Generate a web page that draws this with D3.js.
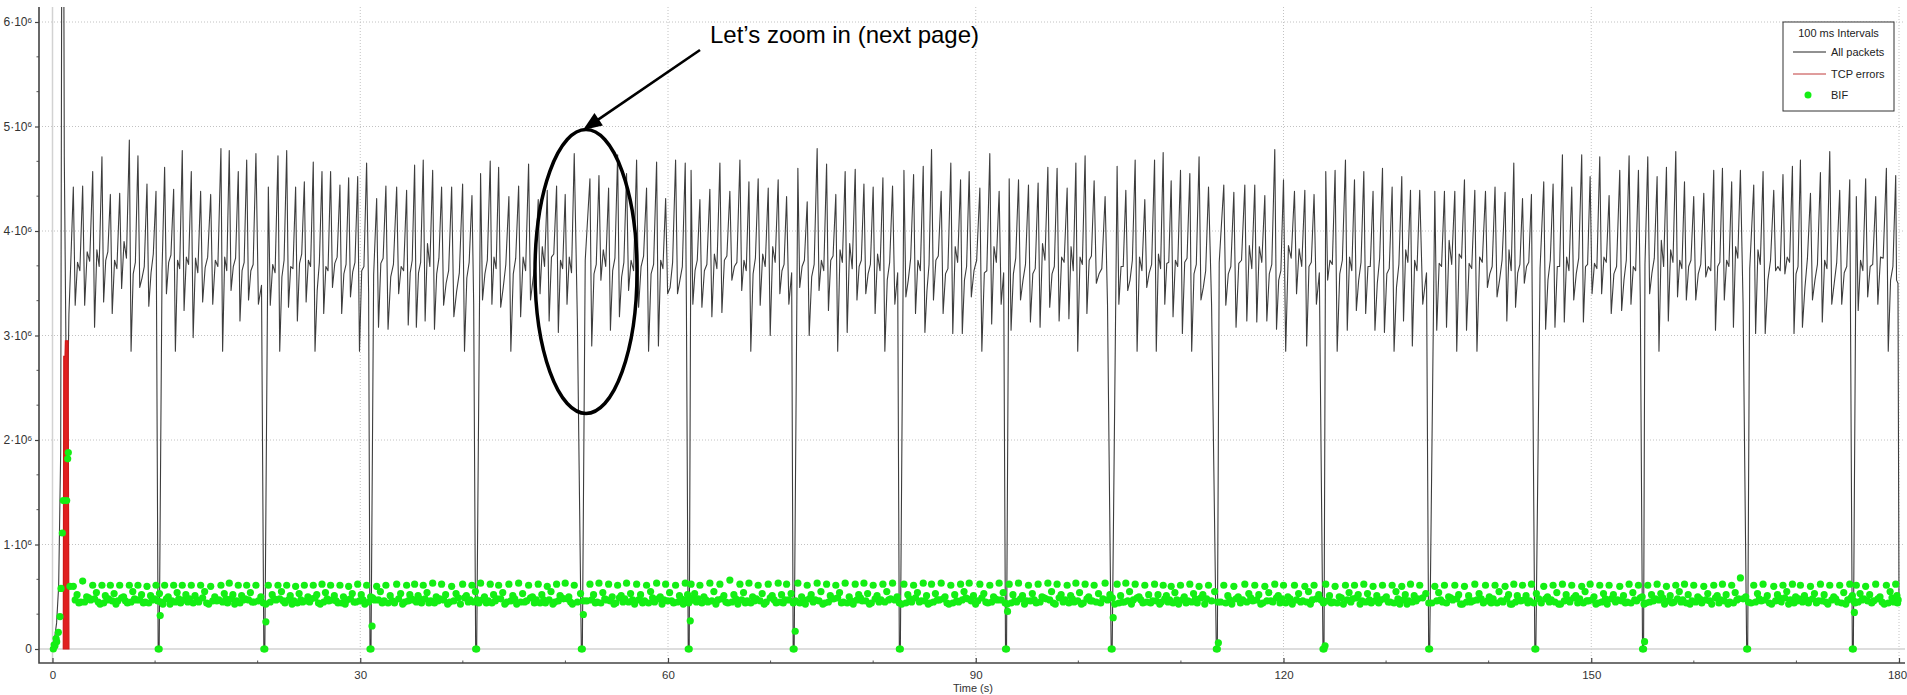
<!DOCTYPE html>
<html><head><meta charset="utf-8">
<script src="https://cdn.jsdelivr.net/npm/d3@7"></script>
<style>
html,body{margin:0;padding:0;background:#fff;}
svg{display:block;font-family:"Liberation Sans",Arial,sans-serif;}
</style></head><body>
<svg id="chart" width="1907" height="695"></svg>
<script>
// ---- axis ticks ----
const xTicks = [0, 30, 60, 90, 120, 150, 180];
const yTicks = [0, 1, 2, 3, 4, 5, 6];            // millions of bytes

// ---- All packets (millions), start-up burst ----
const startT = [0, 0.2, 0.4, 0.6, 0.8, 0.9, 1.1, 1.15, 1.2, 1.4, 1.6, 1.8];
const startV = [0, 0.1, 0.25, 0.6, 1.9, 6.6, 6.6, 4.7, 4.15, 1.9, 3.2, 3.75];

// ---- All packets: each sawtooth cycle = peak time, peak, trough after it, two baseline levels ----
const peakT = [
2.03,2.94,3.92,4.82,5.64,6.55,7.49,8.33,9.21,10.09,
10.93,11.81,12.65,13.53,14.44,15.42,16.42,17.23,18.11,18.93,
19.83,21.04,21.98,22.83,23.70,24.55,25.42,26.27,27.11,28.02,
28.87,29.75,30.62,31.60,32.50,33.55,34.52,
35.30,36.14,37.06,37.93,38.91,39.98,40.89,41.73,42.67,43.49,
44.49,45.44,46.41,47.35,48.23,49.14,49.98,50.86,52.39,53.27,
54.21,55.09,55.96,56.94,57.91,58.89,59.77,60.74,61.68,62.25,
63.11,64.08,65.06,66.03,67.01,67.89,68.79,69.77,70.74,
71.56,72.66,73.57,74.54,75.46,76.36,77.27,78.25,79.10,80.00,
80.95,81.89,83.00,83.94,84.88,85.69,86.63,87.57,88.52,89.36,
90.40,91.37,92.28,93.26,94.17,95.14,96.08,97.03,97.93,98.91,
99.76,100.66,101.54,102.61,103.78,104.63,105.54,106.48,
107.43,108.27,109.05,109.96,110.87,111.77,112.69,114.18,115.16,116.23,
117.20,118.18,119.15,120.00,121.07,122.08,122.98,124.12,125.03,126.04,
126.92,127.83,128.73,129.65,130.59,131.53,132.38,133.28,134.75,135.69,
136.70,137.64,138.65,139.69,140.62,141.60,142.45,
143.30,144.17,145.37,146.28,147.19,148.10,149.07,149.89,150.83,151.74,
152.78,153.69,154.60,155.51,156.42,157.33,158.24,159.09,159.99,160.97,
161.94,162.79,163.69,164.54,165.84,166.75,167.79,168.69,169.61,170.39,
171.37,172.34,173.25,174.22,175.20,175.84,176.75,177.73,178.77,179.68];
const peakV = [
4.42,4.43,4.57,4.71,4.35,4.36,4.87,4.72,4.45,4.38,
4.61,4.40,4.77,4.57,4.38,4.35,4.79,4.77,4.57,4.68,
4.74,4.42,4.72,4.77,4.42,4.47,4.66,4.57,4.57,4.44,
4.51,4.52,4.65,4.31,4.43,4.42,4.39,
4.63,4.68,4.58,4.42,4.42,4.45,4.34,4.55,4.67,4.61,
4.33,4.43,4.64,4.30,4.39,4.43,4.35,4.74,4.50,4.53,
4.41,4.73,4.55,4.68,4.41,4.66,4.31,4.68,4.65,4.58,
4.30,4.40,4.65,4.38,4.68,4.47,4.50,4.41,4.49,
4.33,4.60,4.28,4.79,4.64,4.35,4.57,4.59,4.45,4.42,
4.51,4.43,4.58,4.54,4.62,4.78,4.38,4.65,4.49,4.57,
4.41,4.74,4.38,4.50,4.49,4.44,4.46,4.61,4.60,4.41,
4.65,4.72,4.48,4.33,4.62,4.39,4.68,4.30,
4.68,4.75,4.48,4.58,4.55,4.71,4.42,4.44,4.37,4.44,
4.44,4.34,4.78,4.49,4.38,4.39,4.35,4.57,4.58,4.68,
4.49,4.57,4.38,4.60,4.42,4.52,4.39,4.39,4.38,4.38,
4.38,4.49,4.39,4.38,4.42,4.37,4.65,
4.31,4.35,4.47,4.45,4.73,4.42,4.73,4.52,4.71,4.34,
4.58,4.72,4.58,4.71,4.52,4.61,4.76,4.47,4.33,4.36,
4.58,4.60,4.47,4.58,4.44,4.57,4.39,4.54,4.62,4.68,
4.36,4.56,4.76,4.39,4.49,4.33,4.50,4.33,4.60,4.53];
const lowV = [
3.29,3.29,3.08,3.32,3.21,3.45,2.85,3.46,3.28,3.40,
3.40,2.85,3.24,2.98,3.32,3.30,2.85,3.43,3.14,3.34,
3.30,3.29,2.85,3.27,3.14,3.32,2.85,3.21,3.46,3.21,
3.37,2.85,3.40,3.08,3.06,3.40,3.10,
3.08,3.14,3.06,3.29,3.18,2.85,3.30,3.34,3.30,3.27,
2.85,3.18,3.34,3.40,3.14,3.03,3.30,3.14,2.90,3.53,
3.05,3.18,3.43,3.27,2.85,2.90,3.40,3.40,3.30,3.30,
3.27,3.18,3.22,3.53,3.43,2.85,3.29,3.00,3.40,
3.30,3.46,3.00,3.43,3.24,2.85,3.03,3.34,3.40,3.21,
2.85,3.30,3.37,3.21,3.03,3.34,3.21,3.02,3.02,3.37,
2.85,3.11,3.30,3.05,3.34,3.13,3.08,3.27,3.14,3.16,
2.85,3.21,3.50,3.30,3.30,3.43,2.85,3.46,
2.85,3.30,3.18,3.02,2.85,3.34,3.30,3.29,3.08,3.14,
3.13,3.14,3.06,2.85,3.40,2.90,3.30,3.53,2.85,3.05,
3.24,3.21,3.05,3.03,2.85,3.14,2.90,3.30,3.05,3.08,
2.85,3.05,2.85,3.46,3.37,3.14,3.27,
3.50,3.30,3.06,3.08,3.13,3.34,3.13,3.40,3.40,3.21,
3.24,3.30,3.34,3.40,2.85,3.14,3.37,3.34,3.34,3.56,
3.05,3.34,3.08,3.30,3.02,3.02,3.62,3.59,3.02,3.08,
3.34,3.13,3.30,3.30,3.02,3.24,3.37,3.30,2.85,3.53];
const midV = [
3.70,3.80,3.82,3.72,3.72,3.90,3.59,3.55,3.60,3.65,
3.70,3.72,3.75,3.74,3.65,3.72,3.75,3.66,3.62,3.62,
3.48,3.68,3.56,3.66,3.69,3.72,3.43,3.66,3.69,3.59,
3.61,3.62,3.62,3.69,3.56,3.66,3.60,
3.60,3.88,3.59,3.50,3.42,3.55,3.60,3.59,3.75,3.46,
3.59,3.75,3.53,3.85,3.75,3.72,3.75,3.60,3.59,3.82,
3.62,3.56,3.72,3.66,3.59,3.72,3.46,3.53,3.55,3.62,
3.62,3.78,3.72,3.66,3.72,3.59,3.78,3.85,3.62,
3.60,3.66,3.56,3.72,3.72,3.82,3.88,3.66,3.59,3.78,
3.53,3.60,3.53,3.72,3.43,3.72,3.59,3.85,3.53,3.62,
3.60,3.85,3.60,3.59,3.53,3.59,3.88,3.59,3.75,3.85,
3.75,3.72,3.59,3.62,3.66,3.53,3.75,3.60,
3.78,3.69,3.72,3.70,3.59,3.46,3.60,3.59,3.69,3.86,
3.85,3.59,3.53,3.86,3.83,3.66,3.60,3.72,3.59,3.75,
3.53,3.66,3.50,3.59,3.46,3.82,3.72,3.60,3.69,3.91,
3.78,3.69,3.75,3.59,3.53,3.82,3.60,
3.66,3.60,3.53,3.66,3.75,3.59,3.66,3.69,3.75,3.59,
3.53,3.66,3.72,3.60,3.91,3.82,3.72,3.66,3.59,3.66,
3.66,3.72,3.85,3.60,3.82,3.53,3.66,3.75,3.59,3.46,
3.53,3.72,3.50,3.60,3.59,3.72,3.66,3.75,3.53,3.55];
const wigV = [
3.62,3.71,3.66,3.80,3.64,3.74,3.70,3.66,3.78,3.62,
3.77,3.64,3.68,3.60,3.75,3.66,3.62,3.74,3.70,3.68,
3.65,3.60,3.72,3.64,3.78,3.66,3.70,3.62,3.75,3.68,
3.70,3.66,3.58,3.74,3.68,3.62,3.72,
3.70,3.66,3.74,3.62,3.60,3.70,3.66,3.72,3.64,3.68,
3.74,3.62,3.70,3.66,3.78,3.64,3.60,3.72,3.68,3.66,
3.74,3.70,3.62,3.76,3.68,3.64,3.70,3.66,3.62,3.72,
3.68,3.64,3.76,3.70,3.62,3.74,3.66,3.70,3.68,
3.66,3.72,3.68,3.62,3.76,3.70,3.64,3.72,3.68,3.62,
3.70,3.66,3.74,3.62,3.68,3.76,3.64,3.70,3.66,3.72,
3.62,3.70,3.66,3.74,3.68,3.64,3.72,3.66,3.70,3.62,
3.68,3.76,3.64,3.70,3.66,3.72,3.62,3.68,
3.64,3.70,3.66,3.74,3.68,3.62,3.70,3.66,3.72,3.64,
3.70,3.68,3.62,3.74,3.66,3.70,3.64,3.68,3.72,3.62,
3.70,3.66,3.74,3.64,3.68,3.70,3.62,3.72,3.66,3.68,
3.74,3.64,3.70,3.66,3.72,3.62,3.68,
3.70,3.64,3.72,3.66,3.62,3.74,3.68,3.64,3.70,3.66,
3.72,3.62,3.68,3.74,3.66,3.70,3.64,3.72,3.68,3.62,
3.70,3.66,3.74,3.64,3.68,3.72,3.62,3.70,3.66,3.74,
3.68,3.64,3.70,3.66,3.72,3.62,3.68,3.74,3.66,3.70];

// ---- periodic stalls where All packets falls to zero (s) ----
const dipT = [10.3, 20.6, 30.95, 41.25, 51.55, 61.97, 72.2, 82.55, 92.9, 103.2,
              113.45, 123.85, 134.15, 144.5, 155.0, 165.15, 175.45];
const endT = [179.9, 180.0];
const endV = [3.5, 0.45];

// ---- TCP errors (millions) ----
const tcpT = [1.05, 1.1, 1.22, 1.26, 1.52, 1.6];
const tcpV = [0, 2.8, 2.8, 2.95, 2.95, 0];

// ---- BIF (bytes in flight), start-up ramp in millions ----
const bifStartT = [0.08, 0.16, 0.24, 0.35, 0.41, 0.57, 0.73, 0.83, 0.96, 1.05, 1.38, 1.48, 1.54, 1.7];
const bifStartV = [0, 0.04, 0.03, 0.10, 0.07, 0.16, 0.31, 0.58, 1.11, 1.42, 1.42, 1.82, 1.88, 0.6];
// BIF per cycle, in units of 10 kB: top of the cycle, then readings across the band
const bifHi = [
60,65,61,61,61,61,61,61,60,61, 61,61,61,61,61,60,61,63,61,61, 61,61,61,61,60,61,61,62,61,61, 60,62,61,60,61,62,61,
62,61,63,62,60,62,61,63,62,61, 62,63,61,62,60,62,63,61,62,63, 62,61,63,62,61,63,62,61,63,62, 61,63,62,66,62,63,61,62,63,
62,63,61,63,62,61,63,62,63,61, 62,63,62,61,63,62,63,61,62,63, 62,61,63,62,63,61,62,63,62,61, 63,62,61,63,62,63,62,61,
62,61,60,61,62,60,61,61,60,62, 61,60,62,61,61,60,61,62,60,61, 61,62,60,61,61,60,62,61,60,61, 61,60,62,61,61,60,62,
61,62,60,61,62,61,60,62,61,61, 60,62,61,61,62,60,61,62,61,60, 61,62,61,68,61,62,60,61,62,61, 60,62,61,61,62,61,60,62,61,62];
const bifLoA = [
47,45,48,44,46,49,45,47,44,46, 48,45,47,44,49,46,45,48,44,47, 46,45,48,47,44,46,49,45,47,44, 48,46,45,47,44,48,46,
45,48,44,47,46,49,45,47,44,48, 46,45,49,44,47,46,48,45,47,44, 46,49,45,47,44,48,46,45,47,49, 44,46,48,45,47,44,46,49,45,
47,44,48,46,45,49,44,47,46,48, 45,47,44,49,46,45,48,44,47,46, 49,45,47,44,48,46,45,47,49,44, 46,48,45,47,44,46,49,45,
46,48,44,47,45,49,46,44,48,45, 47,46,49,44,47,45,48,46,44,47, 49,45,46,48,44,47,45,49,46,44, 48,45,47,46,44,48,45,
47,44,48,45,46,49,44,47,45,48, 46,44,49,45,47,46,48,44,45,47, 49,46,44,48,45,47,46,49,44,45, 48,46,47,44,49,45,46,48,44,47];
const bifMid = [
52,50,54,51,53,50,55,52,51,53, 50,54,52,51,55,50,53,52,51,54, 50,52,55,51,53,50,52,54,51,50, 53,52,50,55,51,53,52,
51,54,50,52,53,51,55,50,52,54, 51,53,50,52,55,51,50,53,52,54, 50,51,53,52,55,50,54,51,52,53, 50,55,51,52,54,50,53,51,52,
53,50,52,55,51,54,50,52,53,51, 55,50,52,54,51,53,50,52,55,51, 53,50,54,52,51,53,50,55,52,51, 54,50,53,52,51,55,50,52,
52,51,54,50,53,52,55,51,50,53, 52,54,51,50,53,55,52,51,50,54, 52,53,51,50,55,52,51,53,54,50, 52,51,53,50,55,52,51,
51,53,50,54,52,51,55,50,53,52, 51,54,50,52,53,51,55,52,50,53, 51,52,54,50,53,51,52,55,50,51, 53,52,50,54,51,53,52,50,55,51];
const bifLoB = [
44,49,45,47,43,46,48,44,47,45, 43,48,45,47,44,46,48,43,47,45, 44,48,46,43,47,45,44,48,46,43, 45,47,49,44,46,43,48,
48,44,46,43,49,45,47,44,46,43, 48,45,44,47,43,49,45,46,44,48, 43,45,47,44,49,43,46,48,44,45, 47,43,45,48,44,46,43,47,44,
44,47,45,43,48,44,46,49,43,45, 47,44,48,45,43,47,44,46,49,43, 45,48,44,46,43,47,49,44,45,48, 43,46,44,49,45,43,47,44,
43,45,47,44,48,43,45,47,44,49, 43,46,44,48,45,43,47,44,49,45, 43,47,44,45,48,43,46,44,47,49, 43,45,48,44,46,43,47,
44,48,45,43,47,44,46,43,48,45, 44,47,43,46,49,44,45,43,48,46, 44,43,47,45,48,44,49,43,46,47, 44,45,48,43,46,47,44,45,49,44];
const bifLoC = [
45,47,43,48,46,44,47,45,48,43, 46,44,48,45,43,47,44,46,48,45, 43,47,44,46,45,48,43,46,44,47, 45,43,47,46,44,45,47,
44,46,48,45,43,47,44,46,48,45, 43,46,47,44,45,48,43,46,45,47, 44,48,43,46,45,47,44,43,46,48, 45,47,44,43,46,48,45,44,47,
46,43,47,44,48,45,43,46,44,47, 48,43,45,46,44,47,43,45,48,46, 44,47,43,45,46,44,48,43,47,45, 44,46,48,43,45,47,44,46,
45,47,43,46,44,48,45,43,47,46, 44,45,48,43,46,47,44,45,43,48, 46,44,47,45,43,46,48,44,45,47, 43,46,44,48,45,43,46,
46,44,47,43,45,48,46,44,43,47, 45,46,44,48,43,45,47,46,44,43, 47,45,48,44,46,43,45,47,48,44, 46,43,45,47,44,48,46,43,45,47];
// BIF just after each stall (10 kB units; null = no intermediate reading)
const bifAfterDip = [32, 26, 22, null, 33, 27, 17, null, 36, 30, 6, 3, null, null, 7, null, 35];

// ---------------- drawing ----------------
const svg = d3.select('#chart');
const plotL = 39, plotR = 1905, plotT = 7, plotB = 663;
const x = d3.scaleLinear().domain([0, 180]).range([52.5, 1899]);
const y = d3.scaleLinear().domain([0, 6]).range([649, 22]);

svg.append('defs').append('clipPath').attr('id', 'plotClip')
  .append('rect').attr('x', plotL).attr('y', plotT).attr('width', plotR - plotL).attr('height', plotB - plotT);

// grid
const grid = svg.append('g');
grid.selectAll('.gx').data(xTicks.filter(d => d > 0)).join('line')
  .attr('x1', d => x(d)).attr('x2', d => x(d)).attr('y1', plotT).attr('y2', plotB)
  .attr('stroke', '#c2c2c2').attr('stroke-dasharray', '1,2');
grid.selectAll('.gy').data(yTicks.filter(d => d > 0)).join('line')
  .attr('x1', plotL).attr('x2', plotR).attr('y1', d => y(d)).attr('y2', d => y(d))
  .attr('stroke', '#c2c2c2').attr('stroke-dasharray', '1,2');
grid.append('line').attr('x1', x(0)).attr('x2', x(0)).attr('y1', plotT).attr('y2', plotB)
  .attr('stroke', '#d2d2d2').attr('stroke-width', 1.5);
grid.append('line').attr('x1', plotL).attr('x2', plotR).attr('y1', y(0)).attr('y2', y(0))
  .attr('stroke', '#d2d2d2').attr('stroke-width', 1.5);

// axes
const yAxis = d3.axisLeft(y).tickValues(yTicks).tickSize(4).tickPadding(3);
const gy = svg.append('g').attr('transform', `translate(${plotL},0)`).call(yAxis);
gy.select('.domain').remove();
gy.selectAll('.tick line').attr('stroke', '#444').attr('stroke-width', 1.2);
gy.selectAll('.tick text').attr('fill', '#333').attr('font-size', 12)
  .attr('font-family', '"Liberation Sans",Arial,sans-serif')
  .each(function (d) {
    const t = d3.select(this);
    t.text(null);
    if (d === 0) { t.text('0'); return; }
    t.append('tspan').text(d + '·10');
    t.append('tspan').attr('dy', '-0.45em').attr('font-size', 8).text('6');
  });
const yMinor = d3.range(0, 6.1, 1 / 3).filter(v => Math.abs(v - Math.round(v)) > 0.01);
svg.append('g').selectAll('line').data(yMinor).join('line')
  .attr('x1', plotL - 2.5).attr('x2', plotL).attr('y1', d => y(d)).attr('y2', d => y(d))
  .attr('stroke', '#555');

const xAxis = d3.axisBottom(x).tickValues(xTicks).tickSizeInner(-5).tickSizeOuter(0).tickPadding(8);
const gx = svg.append('g').attr('transform', `translate(0,${plotB})`).call(xAxis);
gx.select('.domain').remove();
gx.selectAll('.tick line').attr('stroke', '#444').attr('stroke-width', 1.2);
gx.selectAll('.tick text').attr('fill', '#333').attr('font-size', 11.5)
  .attr('font-family', '"Liberation Sans",Arial,sans-serif')
  .attr('dx', d => d === 180 ? -2 : 0);
const xMinor = d3.range(10, 180, 10).filter(v => v % 30 !== 0);
svg.append('g').selectAll('line').data(xMinor).join('line')
  .attr('x1', d => x(d)).attr('x2', d => x(d)).attr('y1', plotB - 2.5).attr('y2', plotB)
  .attr('stroke', '#555');

svg.append('path').attr('d', `M${plotL},${plotT}V${plotB}H${plotR}`)
  .attr('fill', 'none').attr('stroke', '#444').attr('stroke-width', 1.6);

svg.append('text').attr('x', (plotL + plotR) / 2 + 1).attr('y', 692).attr('text-anchor', 'middle')
  .attr('font-size', 11).attr('fill', '#333').text('Time (s)');

// All packets line vertices
const nCyc = peakT.length;
let pts = startT.map((t, i) => ({ t, v: startV[i], kind: 'fixed' }));
for (let i = 0; i < nCyc; i++) {
  const t = peakT[i];
  const last = i === nCyc - 1;
  const g = last ? 0.4 : peakT[i + 1] - t;
  pts.push({ t, v: peakV[i], kind: 'fixed' });
  pts.push({ t: t + g * 0.2, v: lowV[i], kind: 'soft' });
  if (!last) {
    pts.push({ t: t + g * 0.45, v: midV[i], kind: 'soft' });
    pts.push({ t: t + g * 0.7, v: wigV[i], kind: 'soft' });
  }
}
dipT.forEach(t => { pts.push({ t, v: 0, kind: 'fixed' }, { t: t + 0.1, v: 0, kind: 'fixed' }); });
endT.forEach((t, i) => pts.push({ t, v: endV[i], kind: 'fixed' }));
pts = pts.filter(p => p.kind === 'fixed' || !dipT.some(d => p.t > d - 0.13 && p.t < d + 0.23));
pts.sort((a, b) => a.t - b.t);

const plot = svg.append('g').attr('clip-path', 'url(#plotClip)');
const line = d3.line().x(d => x(d.t)).y(d => y(d.v));
plot.append('path').datum(pts).attr('d', line)
  .attr('fill', 'none').attr('stroke', '#3d3d3d').attr('stroke-width', 1.1).attr('stroke-linejoin', 'round');

// TCP errors
const tcp = tcpT.map((t, i) => ({ t, v: tcpV[i] }));
plot.append('path').datum(tcp)
  .attr('d', d3.area().x(d => x(d.t)).y0(y(0)).y1(d => y(d.v)))
  .attr('fill', '#e02020').attr('stroke', '#d01818').attr('stroke-width', 1.2);

// BIF dots
const bif = bifStartT.map((t, i) => ({ t, v: bifStartV[i] }));
for (let i = 0; i < nCyc; i++) {
  const t = peakT[i];
  const g = i < nCyc - 1 ? peakT[i + 1] - t : 0.3;
  bif.push({ t, v: bifHi[i] / 100 });
  bif.push({ t: t + g * 0.2, v: bifLoA[i] / 100 });
  bif.push({ t: t + g * 0.4, v: bifMid[i] / 100 });
  bif.push({ t: t + g * 0.6, v: bifLoB[i] / 100 });
  bif.push({ t: t + g * 0.8, v: bifLoC[i] / 100 });
}
dipT.forEach((t, i) => {
  bif.push({ t, v: 0 }, { t: t + 0.1, v: 0 });
  if (bifAfterDip[i] !== null) bif.push({ t: t + 0.2, v: bifAfterDip[i] / 100 });
});
plot.append('g').selectAll('circle').data(bif).join('circle')
  .attr('cx', d => x(d.t)).attr('cy', d => y(d.v)).attr('r', 3.6).attr('fill', '#14ee14');

// legend
const lg = svg.append('g');
lg.append('rect').attr('x', 1783).attr('y', 22).attr('width', 111).attr('height', 89)
  .attr('fill', '#fff').attr('stroke', '#333').attr('stroke-width', 1);
lg.append('text').attr('x', 1838.5).attr('y', 37).attr('text-anchor', 'middle').attr('font-size', 11).attr('fill', '#222').text('100 ms Intervals');
lg.append('line').attr('x1', 1793).attr('x2', 1826).attr('y1', 52).attr('y2', 52).attr('stroke', '#222');
lg.append('text').attr('x', 1831).attr('y', 55.5).attr('font-size', 11).attr('fill', '#222').text('All packets');
lg.append('line').attr('x1', 1793).attr('x2', 1826).attr('y1', 74).attr('y2', 74).attr('stroke', '#c03a3a');
lg.append('text').attr('x', 1831).attr('y', 77.5).attr('font-size', 11).attr('fill', '#222').text('TCP errors');
lg.append('circle').attr('cx', 1808).attr('cy', 95).attr('r', 3.5).attr('fill', '#14ee14');
lg.append('text').attr('x', 1831).attr('y', 98.5).attr('font-size', 11).attr('fill', '#222').text('BIF');

// annotation
const ann = svg.append('g');
ann.append('ellipse').attr('cx', 586).attr('cy', 271.5).attr('rx', 51).attr('ry', 142)
  .attr('fill', 'none').attr('stroke', '#000').attr('stroke-width', 3.5);
const a0 = [700, 50], a1 = [583, 130];
const dx = a1[0] - a0[0], dy = a1[1] - a0[1], len = Math.hypot(dx, dy);
const ux = dx / len, uy = dy / len, hl = 19, hw = 7.5;
const bx = a1[0] - ux * hl, by = a1[1] - uy * hl;
ann.append('line').attr('x1', a0[0]).attr('y1', a0[1]).attr('x2', bx + ux * 2).attr('y2', by + uy * 2)
  .attr('stroke', '#000').attr('stroke-width', 2.6);
ann.append('path').attr('d', `M${a1[0]},${a1[1]}L${bx - uy * hw},${by + ux * hw}L${bx + uy * hw},${by - ux * hw}Z`).attr('fill', '#000');
ann.append('text').attr('x', 710).attr('y', 43).attr('font-size', 24).attr('fill', '#000')
  .attr('font-family', '"Liberation Sans",Arial,sans-serif').text('Let’s zoom in (next page)');

const lens = [peakT, peakV, lowV, midV, wigV, bifHi, bifLoA, bifMid, bifLoB, bifLoC].map(a => a.length);
if (new Set(lens).size !== 1) throw new Error('series length mismatch: ' + lens.join(','));
</script>
</body></html>
